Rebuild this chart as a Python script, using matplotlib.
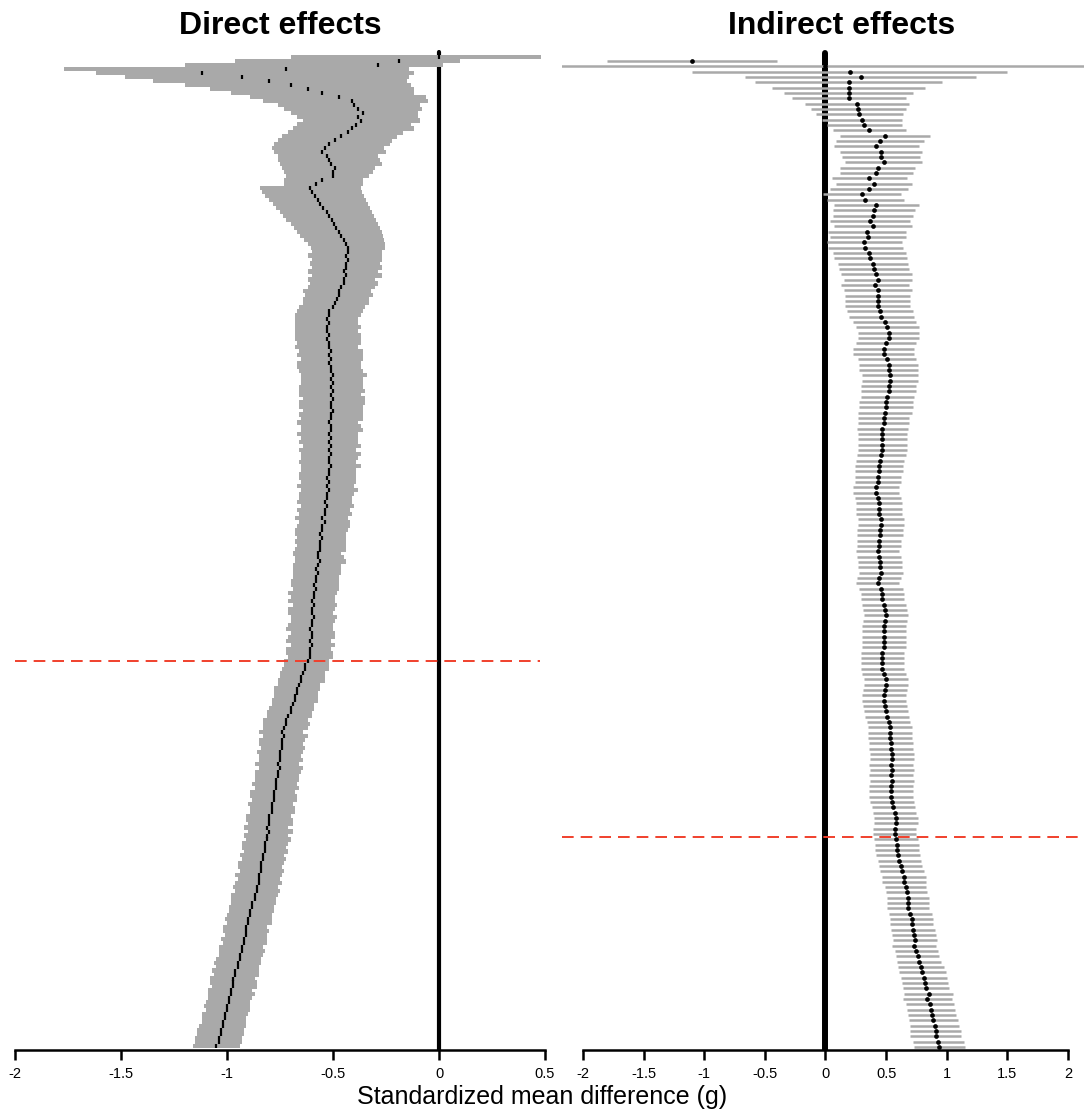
import matplotlib
matplotlib.use('Agg')
import matplotlib.pyplot as plt
import numpy as np

plt.rcParams['font.family'] = ['Liberation Sans', 'DejaVu Sans']

# direct effects: cumulative estimate per step, with distance to lower / upper CI limit
direct_est = [
    0.00, -0.19, -0.29, -0.72, -1.12, -0.93, -0.80, -0.70, -0.62, -0.55,
    -0.47, -0.41, -0.40, -0.38, -0.36, -0.38, -0.37, -0.39, -0.41, -0.43,
    -0.46, -0.49, -0.52, -0.54, -0.55, -0.53, -0.52, -0.51, -0.49, -0.50,
    -0.50, -0.55, -0.58, -0.61, -0.60, -0.585, -0.57, -0.56, -0.545, -0.53,
    -0.52, -0.505, -0.495, -0.485, -0.47, -0.46, -0.45, -0.44, -0.43, -0.43,
    -0.44, -0.43, -0.44, -0.44, -0.45, -0.44, -0.45, -0.45, -0.46, -0.47,
    -0.47, -0.48, -0.49, -0.50, -0.52, -0.52, -0.53, -0.52, -0.53, -0.53,
    -0.52, -0.53, -0.52, -0.52, -0.51, -0.52, -0.51, -0.52, -0.51, -0.51,
    -0.50, -0.51, -0.50, -0.51, -0.50, -0.51, -0.50, -0.51, -0.51, -0.50,
    -0.51, -0.51, -0.52, -0.51, -0.51, -0.52, -0.51, -0.52, -0.51, -0.52,
    -0.51, -0.52, -0.52, -0.51, -0.52, -0.52, -0.53, -0.52, -0.53, -0.52,
    -0.53, -0.53, -0.54, -0.53, -0.54, -0.54, -0.55, -0.54, -0.55, -0.55,
    -0.56, -0.55, -0.56, -0.56, -0.56, -0.57, -0.57, -0.56, -0.57, -0.58,
    -0.57, -0.58, -0.58, -0.59, -0.58, -0.59, -0.59, -0.60, -0.59, -0.60,
    -0.60, -0.59, -0.60, -0.60, -0.61, -0.60, -0.60, -0.61, -0.60, -0.61,
    -0.61, -0.61, -0.62, -0.63, -0.63, -0.64, -0.65, -0.65, -0.66, -0.67,
    -0.67, -0.68, -0.68, -0.69, -0.70, -0.70, -0.71, -0.72, -0.72, -0.73,
    -0.74, -0.73, -0.74, -0.74, -0.74, -0.75, -0.75, -0.75, -0.76, -0.75,
    -0.76, -0.76, -0.77, -0.77, -0.77, -0.78, -0.78, -0.78, -0.79, -0.79,
    -0.79, -0.80, -0.80, -0.80, -0.81, -0.80, -0.81, -0.81, -0.82, -0.82,
    -0.82, -0.83, -0.83, -0.84, -0.84, -0.84, -0.85, -0.85, -0.85, -0.86,
    -0.86, -0.87, -0.87, -0.88, -0.88, -0.89, -0.89, -0.90, -0.90, -0.91,
    -0.91, -0.91, -0.92, -0.92, -0.93, -0.93, -0.94, -0.94, -0.95, -0.95,
    -0.96, -0.96, -0.97, -0.97, -0.97, -0.98, -0.98, -0.99, -0.99, -1.00,
    -1.00, -1.01, -1.01, -1.02, -1.02, -1.03, -1.03, -1.04, -1.04, -1.05,
]
direct_err_lo = [
    0.70, 0.77, 0.91, 1.05, 0.50, 0.55, 0.55, 0.50, 0.46, 0.43,
    0.42, 0.42, 0.36, 0.35, 0.34, 0.29, 0.27, 0.28, 0.28, 0.28,
    0.28, 0.27, 0.26, 0.25, 0.23, 0.23, 0.24, 0.24, 0.25, 0.23,
    0.22, 0.18, 0.15, 0.235, 0.235, 0.235, 0.23, 0.225, 0.225, 0.22,
    0.215, 0.215, 0.205, 0.20, 0.20, 0.195, 0.185, 0.18, 0.175, 0.17,
    0.18, 0.17, 0.17, 0.16, 0.17, 0.16, 0.17, 0.16, 0.16, 0.17,
    0.16, 0.16, 0.15, 0.16, 0.15, 0.16, 0.15, 0.16, 0.15, 0.15,
    0.16, 0.15, 0.15, 0.16, 0.15, 0.15, 0.14, 0.15, 0.16, 0.15,
    0.15, 0.14, 0.15, 0.15, 0.16, 0.15, 0.14, 0.15, 0.15, 0.14,
    0.15, 0.14, 0.15, 0.14, 0.14, 0.15, 0.14, 0.14, 0.13, 0.14,
    0.14, 0.13, 0.14, 0.14, 0.13, 0.14, 0.13, 0.13, 0.14, 0.13,
    0.13, 0.13, 0.13, 0.12, 0.13, 0.12, 0.13, 0.12, 0.12, 0.13,
    0.12, 0.12, 0.12, 0.11, 0.12, 0.12, 0.11, 0.12, 0.12, 0.11,
    0.12, 0.11, 0.12, 0.11, 0.11, 0.12, 0.11, 0.11, 0.10, 0.11,
    0.11, 0.11, 0.10, 0.11, 0.11, 0.10, 0.11, 0.11, 0.10, 0.11,
    0.11, 0.10, 0.11, 0.10, 0.11, 0.11, 0.10, 0.11, 0.10, 0.11,
    0.11, 0.10, 0.11, 0.10, 0.10, 0.11, 0.10, 0.11, 0.11, 0.10,
    0.11, 0.10, 0.11, 0.11, 0.10, 0.11, 0.10, 0.10, 0.11, 0.10,
    0.11, 0.11, 0.10, 0.11, 0.10, 0.11, 0.11, 0.10, 0.11, 0.10,
    0.10, 0.11, 0.11, 0.10, 0.11, 0.10, 0.11, 0.10, 0.11, 0.11,
    0.10, 0.11, 0.10, 0.11, 0.11, 0.10, 0.11, 0.10, 0.11, 0.11,
    0.10, 0.11, 0.11, 0.10, 0.11, 0.10, 0.11, 0.11, 0.10, 0.11,
    0.11, 0.10, 0.11, 0.10, 0.11, 0.11, 0.10, 0.11, 0.11, 0.10,
    0.11, 0.10, 0.11, 0.11, 0.10, 0.11, 0.11, 0.10, 0.11, 0.11,
    0.10, 0.11, 0.11, 0.10, 0.11, 0.11, 0.11, 0.11, 0.11, 0.11,
]
direct_err_hi = [
    0.48, 0.29, 0.31, 0.58, 1.00, 0.79, 0.65, 0.57, 0.50, 0.43,
    0.41, 0.36, 0.31, 0.30, 0.26, 0.28, 0.28, 0.26, 0.29, 0.26,
    0.26, 0.27, 0.29, 0.28, 0.30, 0.24, 0.24, 0.24, 0.19, 0.19,
    0.17, 0.19, 0.22, 0.24, 0.235, 0.23, 0.225, 0.225, 0.22, 0.215,
    0.215, 0.21, 0.205, 0.205, 0.20, 0.195, 0.19, 0.185, 0.175, 0.16,
    0.17, 0.16, 0.16, 0.17, 0.16, 0.17, 0.15, 0.16, 0.16, 0.15,
    0.16, 0.15, 0.16, 0.15, 0.16, 0.15, 0.15, 0.14, 0.16, 0.15,
    0.15, 0.16, 0.15, 0.14, 0.15, 0.16, 0.15, 0.15, 0.14, 0.15,
    0.16, 0.15, 0.14, 0.15, 0.15, 0.14, 0.15, 0.16, 0.15, 0.14,
    0.15, 0.15, 0.14, 0.14, 0.15, 0.14, 0.13, 0.14, 0.14, 0.13,
    0.14, 0.14, 0.13, 0.14, 0.13, 0.13, 0.14, 0.13, 0.13, 0.14,
    0.13, 0.12, 0.13, 0.13, 0.12, 0.13, 0.12, 0.12, 0.13, 0.12,
    0.12, 0.11, 0.12, 0.12, 0.12, 0.11, 0.12, 0.12, 0.11, 0.12,
    0.11, 0.11, 0.11, 0.12, 0.11, 0.11, 0.10, 0.11, 0.11, 0.11,
    0.10, 0.11, 0.11, 0.10, 0.11, 0.11, 0.11, 0.10, 0.11, 0.10,
    0.11, 0.11, 0.10, 0.11, 0.11, 0.10, 0.11, 0.11, 0.10, 0.11,
    0.10, 0.11, 0.11, 0.10, 0.11, 0.10, 0.11, 0.10, 0.11, 0.11,
    0.10, 0.11, 0.11, 0.10, 0.11, 0.11, 0.10, 0.11, 0.10, 0.11,
    0.11, 0.10, 0.11, 0.10, 0.11, 0.10, 0.11, 0.11, 0.10, 0.11,
    0.11, 0.10, 0.11, 0.11, 0.10, 0.11, 0.10, 0.11, 0.11, 0.10,
    0.11, 0.10, 0.11, 0.11, 0.10, 0.11, 0.11, 0.10, 0.11, 0.10,
    0.11, 0.11, 0.10, 0.11, 0.10, 0.11, 0.10, 0.11, 0.11, 0.10,
    0.11, 0.10, 0.11, 0.11, 0.10, 0.11, 0.11, 0.10, 0.11, 0.10,
    0.11, 0.11, 0.10, 0.11, 0.11, 0.10, 0.11, 0.11, 0.10, 0.11,
    0.11, 0.11, 0.10, 0.11, 0.11, 0.11, 0.11, 0.11, 0.11, 0.11,
]

# indirect effects: cumulative estimate and CI half width per step
indirect_est = [
    -1.10, 0.00, 0.20, 0.29, 0.19, 0.19, 0.19, 0.19, 0.26, 0.27,
    0.28, 0.30, 0.32, 0.36, 0.49, 0.45, 0.42, 0.46, 0.46, 0.48,
    0.43, 0.42, 0.36, 0.40, 0.36, 0.30, 0.33, 0.42, 0.40, 0.39,
    0.37, 0.39, 0.34, 0.35, 0.32, 0.33, 0.36, 0.37, 0.39, 0.40,
    0.42, 0.43, 0.41, 0.43, 0.43, 0.43, 0.43, 0.45, 0.46, 0.49,
    0.51, 0.52, 0.52, 0.50, 0.48, 0.48, 0.51, 0.52, 0.52, 0.53,
    0.53, 0.52, 0.52, 0.51, 0.50, 0.50, 0.49, 0.48, 0.48, 0.47,
    0.47, 0.47, 0.47, 0.47, 0.46, 0.45, 0.44, 0.44, 0.43, 0.43,
    0.42, 0.42, 0.43, 0.44, 0.44, 0.44, 0.46, 0.46, 0.45, 0.45,
    0.44, 0.44, 0.43, 0.44, 0.45, 0.45, 0.46, 0.44, 0.43, 0.46,
    0.47, 0.47, 0.48, 0.49, 0.50, 0.49, 0.48, 0.48, 0.48, 0.48,
    0.48, 0.47, 0.47, 0.47, 0.47, 0.48, 0.50, 0.50, 0.49, 0.48,
    0.48, 0.49, 0.50, 0.51, 0.52, 0.53, 0.53, 0.53, 0.54, 0.54,
    0.55, 0.55, 0.54, 0.55, 0.54, 0.55, 0.54, 0.54, 0.54, 0.55,
    0.56, 0.57, 0.58, 0.58, 0.57, 0.57, 0.58, 0.59, 0.59, 0.60,
    0.61, 0.62, 0.63, 0.65, 0.65, 0.66, 0.67, 0.68, 0.68, 0.68,
    0.70, 0.71, 0.71, 0.72, 0.73, 0.74, 0.73, 0.75, 0.76, 0.77,
    0.79, 0.80, 0.81, 0.82, 0.83, 0.85, 0.84, 0.86, 0.87, 0.88,
    0.89, 0.90, 0.91, 0.91, 0.93, 0.94,
]
indirect_half = [
    0.70, 2.40, 1.30, 0.95, 0.77, 0.63, 0.53, 0.47, 0.43, 0.39,
    0.36, 0.33, 0.31, 0.30, 0.37, 0.36, 0.35, 0.34, 0.32, 0.32,
    0.31, 0.30, 0.31, 0.31, 0.32, 0.32, 0.32, 0.35, 0.34, 0.33,
    0.33, 0.32, 0.32, 0.31, 0.31, 0.31, 0.30, 0.30, 0.29, 0.29,
    0.29, 0.28, 0.28, 0.28, 0.27, 0.27, 0.27, 0.27, 0.27, 0.26,
    0.26, 0.25, 0.25, 0.25, 0.25, 0.25, 0.24, 0.24, 0.24, 0.23,
    0.23, 0.23, 0.23, 0.22, 0.22, 0.22, 0.22, 0.21, 0.21, 0.21,
    0.20, 0.20, 0.20, 0.20, 0.20, 0.20, 0.20, 0.20, 0.19, 0.19,
    0.19, 0.19, 0.19, 0.19, 0.19, 0.19, 0.19, 0.19, 0.19, 0.19,
    0.18, 0.18, 0.18, 0.18, 0.18, 0.18, 0.18, 0.18, 0.18, 0.18,
    0.18, 0.18, 0.18, 0.18, 0.18, 0.18, 0.18, 0.18, 0.18, 0.18,
    0.18, 0.18, 0.18, 0.18, 0.18, 0.18, 0.18, 0.18, 0.18, 0.18,
    0.18, 0.18, 0.18, 0.18, 0.18, 0.18, 0.18, 0.18, 0.18, 0.18,
    0.18, 0.18, 0.18, 0.18, 0.18, 0.18, 0.18, 0.18, 0.18, 0.18,
    0.18, 0.18, 0.18, 0.18, 0.18, 0.18, 0.18, 0.18, 0.18, 0.18,
    0.18, 0.18, 0.18, 0.18, 0.18, 0.17, 0.17, 0.17, 0.17, 0.17,
    0.18, 0.18, 0.18, 0.18, 0.18, 0.18, 0.18, 0.18, 0.18, 0.18,
    0.19, 0.19, 0.19, 0.19, 0.19, 0.20, 0.20, 0.20, 0.20, 0.20,
    0.20, 0.20, 0.21, 0.21, 0.21, 0.21,
]

direct_ticks = [-2, -1.5, -1, -0.5, 0, 0.5]
indirect_ticks = [-2, -1.5, -1, -0.5, 0, 0.5, 1, 1.5, 2]
direct_cut = 152        # step marked with the dashed line
indirect_cut = 146.5

GRAY = '#a9a9a9'
RED = '#f0402c'

d_est = np.array(direct_est)
d_lo = d_est - np.array(direct_err_lo)
d_hi = d_est + np.array(direct_err_hi)
d_rows = np.arange(len(d_est))

i_est = np.array(indirect_est)
i_half = np.array(indirect_half)
i_rows = np.arange(1, len(i_est) + 1)

fig = plt.figure(figsize=(10.84, 11.14), dpi=100)
ax1 = fig.add_axes([15 / 1084, 64 / 1114, 530 / 1084, 1000 / 1114])
ax2 = fig.add_axes([562 / 1084, 64 / 1114, 522 / 1084, 1000 / 1114])


def style_axis(ax, ticks):
    for s in ['top', 'left', 'right']:
        ax.spines[s].set_visible(False)
    ax.spines['bottom'].set_linewidth(1.8)
    ax.spines['bottom'].set_bounds(ticks[0], ticks[-1])
    ax.set_yticks([])
    ax.set_xticks(ticks)
    ax.set_xticklabels(['%g' % t for t in ticks], fontsize=10.5)
    ax.tick_params(axis='x', direction='out', length=7, width=1.8, pad=5)
    ax.patch.set_alpha(0)


# direct effects panel
ax1.plot([0, 0], [-1.3, 250], color='black', lw=3, solid_capstyle='round', zorder=1)
ax1.barh(d_rows, d_hi - d_lo, left=d_lo, height=1.06, color=GRAY, linewidth=0, zorder=2)
ax1.axhline(direct_cut, xmax=0.99, color=RED, lw=1.4, ls=(0, (6, 3.6)), zorder=2.5)
ax1.plot(d_est, d_rows, ls='none', marker='|', ms=2.9, mew=1.6, color='black', zorder=3)
ax1.set_xlim(-2, 0.5)
ax1.set_ylim(250, -1.76)
style_axis(ax1, direct_ticks)

# indirect effects panel
ax2.plot([0, 0], [-0.5, 186.55], color='black', lw=4.3, solid_capstyle='round', zorder=1)
ax2.hlines(i_rows, i_est - i_half, i_est + i_half, color=GRAY, lw=1.8, zorder=2)
ax2.axhline(indirect_cut, color=RED, lw=1.4, ls=(0, (6, 3.6)), zorder=2.5)
ax2.plot(i_est, i_rows, ls='none', marker='o', ms=3.4, mew=0, color='black', zorder=3)
ax2.set_xlim(-2.173, 2.132)
ax2.set_ylim(186.55, -1.06)
style_axis(ax2, indirect_ticks)

fig.text(280 / 1084, 1 - 34 / 1114, 'Direct effects', ha='center', va='baseline',
         fontsize=23, fontweight='bold')
fig.text(842 / 1084, 1 - 34 / 1114, 'Indirect effects', ha='center', va='baseline',
         fontsize=23, fontweight='bold')
fig.text(542 / 1084, 10 / 1114, 'Standardized mean difference (g)', ha='center',
         va='baseline', fontsize=18)

fig.savefig('out.png', dpi=100)
